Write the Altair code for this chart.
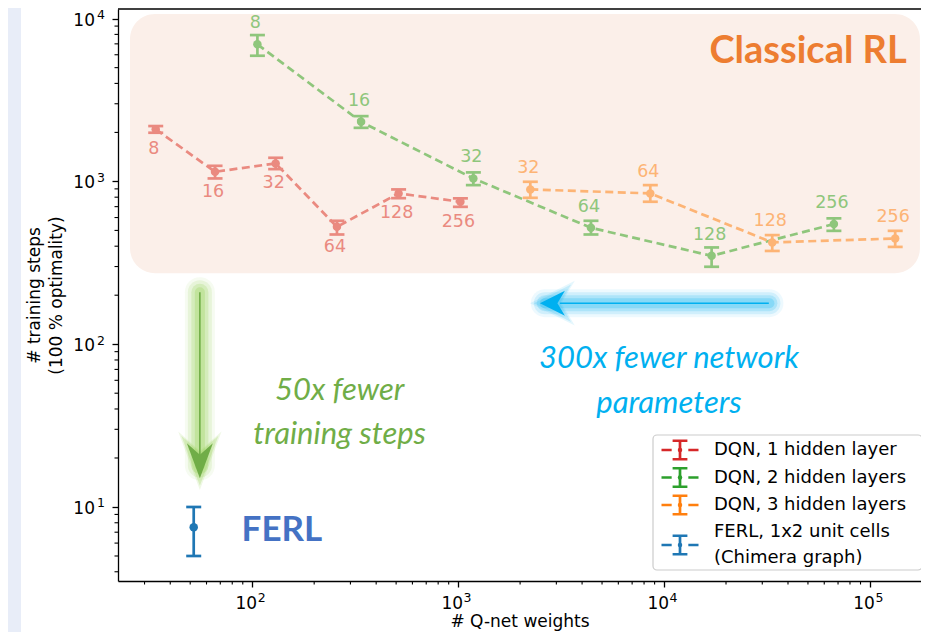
import altair as alt
import pandas as pd

# ---------------- data ----------------
SERIES = ["DQN, 1 hidden layer", "DQN, 2 hidden layers", "DQN, 3 hidden layers",
          "FERL, 1x2 unit cells\n(Chimera graph)"]
FULL_COLORS = ["#d62728", "#2ca02c", "#ff7f0e", "#1f77b4"]
FADED_COLORS = ["#ea8a80", "#8fc67c", "#fdb475"]

H1_UNITS = [8, 16, 32, 64, 128, 256]
H1_WEIGHTS = [34, 66, 130, 258, 514, 1026]
H1_STEPS = [2090, 1146, 1290, 526, 844, 750]
H1_LO = [1991, 1043, 1190, 472, 789, 698]
H1_HI = [2188, 1247, 1397, 573, 893, 787]

H2_UNITS = [8, 16, 32, 64, 128, 256]
H2_WEIGHTS = [106, 338, 1186, 4418, 17026, 66818]
H2_STEPS = [6950, 2322, 1043, 519, 349, 547]
H2_LO = [5916, 2134, 949, 472, 299, 497]
H2_HI = [7925, 2518, 1136, 573, 393, 593]

H3_UNITS = [32, 64, 128, 256]
H3_WEIGHTS = [2242, 8578, 33538, 132610]
H3_STEPS = [893, 844, 422, 446]
H3_LO = [793, 750, 374, 396]
H3_HI = [995, 949, 468, 497]

FERL_WEIGHTS = [52]
FERL_STEPS = [7.5]
FERL_LO = [5.0]
FERL_HI = [10.0]

X_MAJOR = [100, 1000, 10000, 100000]
X_EXP = ["2", "3", "4", "5"]
Y_MAJOR = [10, 100, 1000, 10000]
Y_EXP = ["1", "2", "3", "4"]
X_MINOR = [30, 40, 50, 60, 70, 80, 90, 200, 300, 400, 500, 600, 700, 800, 900,
           2000, 3000, 4000, 5000, 6000, 7000, 8000, 9000,
           20000, 30000, 40000, 50000, 60000, 70000, 80000, 90000]
Y_MINOR = [4, 5, 6, 7, 8, 9, 20, 30, 40, 50, 60, 70, 80, 90,
           200, 300, 400, 500, 600, 700, 800, 900,
           2000, 3000, 4000, 5000, 6000, 7000, 8000, 9000]

# annotation anchors (data coordinates)
BOX = dict(x=25.5, x2=174900, y=10670, y2=273)
CLASSICAL_POS = dict(x=151000, y=5330)
FERL_POS = dict(x=88.8, y=6.18)
GREEN_TEXT_POS = dict(x=266, y=45.3)
BLUE_TEXT_POS = dict(x=10570, y=71.2)
GREEN_ARROW = dict(x=55.7, y=208.7, y2=18.0, head=19.23)
BLUE_ARROW = dict(y=178.6, x=3119, x2=32280, head=2871, gx=2636, gx2=32500)

# ---------------- tables ----------------
rows = []
for name, units, w, s, lo, hi in [
    (SERIES[0], H1_UNITS, H1_WEIGHTS, H1_STEPS, H1_LO, H1_HI),
    (SERIES[1], H2_UNITS, H2_WEIGHTS, H2_STEPS, H2_LO, H2_HI),
    (SERIES[2], H3_UNITS, H3_WEIGHTS, H3_STEPS, H3_LO, H3_HI),
]:
    for u, a, b, c, d in zip(units, w, s, lo, hi):
        rows.append(dict(series=name, label=str(u), weights=a, steps=b, lo=c, hi=d))
dqn = pd.DataFrame(rows)
ferl = pd.DataFrame(dict(series=[SERIES[3]], weights=FERL_WEIGHTS, steps=FERL_STEPS,
                         lo=FERL_LO, hi=FERL_HI))

X_DOMAIN = [22.3, 177000]
Y_DOMAIN = [3.51, 11460]
W, H = 803, 572

x_scale = alt.Scale(type="log", domain=X_DOMAIN, nice=False)
y_scale = alt.Scale(type="log", domain=Y_DOMAIN, nice=False)

x_axis = alt.Axis(values=X_MAJOR, title="# Q-net weights", titlePadding=26, labels=False)
y_axis = alt.Axis(values=Y_MAJOR, title=["# training steps", "(100 % optimality)"],
                  titlePadding=46, titleLineHeight=22, labels=False)


def X(field):
    return alt.X(f"{field}:Q", scale=x_scale, axis=x_axis)


def Y(field):
    return alt.Y(f"{field}:Q", scale=y_scale, axis=y_axis)


one = pd.DataFrame({"k": [0]})

# background strip & box
strip = alt.Chart(one).mark_rect(color="#e8edf8").encode(
    x=alt.value(-110), x2=alt.value(-97), y=alt.value(-1), y2=alt.value(H + 60))

box = alt.Chart(pd.DataFrame([BOX])).mark_rect(color="#fbefe9", cornerRadius=25).encode(
    x=X("x"), x2="x2:Q", y=Y("y"), y2="y2:Q")

# arrows + glows
ga = pd.DataFrame([GREEN_ARROW])
green_glow = [
    alt.Chart(ga).mark_rule(color="#92d050", strokeWidth=sw, opacity=op, strokeCap="round").encode(
        x=X("x"), y=Y("y"), y2="y2:Q")
    for sw, op in [(30, 0.08), (24, 0.15), (17, 0.22), (10, 0.28)]
]
GREEN_HEAD = "M0,1 L-0.743,-1 L0,-0.343 L0.743,-1 Z"
green_head_glow = [
    alt.Chart(ga).mark_point(shape=GREEN_HEAD, filled=True, size=sz,
                             color="#92d050", opacity=op).encode(x=X("x"), y=Y("head"))
    for sz, op in [(3400, 0.15), (2500, 0.25)]
]
green_shaft = alt.Chart(ga).mark_rule(color="#70ad47", strokeWidth=1.6).encode(
    x=X("x"), y=Y("y"), y2="y2:Q")
green_head = alt.Chart(ga).mark_point(shape=GREEN_HEAD, filled=True, size=1225,
                                      color="#70ad47", opacity=1, strokeWidth=0).encode(
    x=X("x"), y=Y("head"))

ba = pd.DataFrame([BLUE_ARROW])
blue_glow = [
    alt.Chart(ba).mark_rule(color="#00b0f0", strokeWidth=sw, opacity=op, strokeCap="round").encode(
        x=X("gx"), x2="gx2:Q", y=Y("y"))
    for sw, op in [(28, 0.07), (22, 0.12), (16, 0.17), (10, 0.22)]
]
BLUE_HEAD = "M-1,0 L1,-1 L0.4,0 L1,1 Z"
blue_head_glow = [
    alt.Chart(ba).mark_point(shape=BLUE_HEAD, filled=True, size=sz,
                             color="#00b0f0", opacity=op).encode(x=X("head"), y=Y("y"))
    for sz, op in [(2000, 0.1), (1400, 0.15)]
]
blue_shaft = alt.Chart(ba).mark_rule(color="#00b0f0", strokeWidth=1.6).encode(
    x=X("x"), x2="x2:Q", y=Y("y"))
blue_head = alt.Chart(ba).mark_point(shape=BLUE_HEAD, filled=True, size=625,
                                     color="#00b0f0", opacity=1, strokeWidth=0).encode(
    x=X("head"), y=Y("y"))

# texts
classical = alt.Chart(pd.DataFrame([dict(CLASSICAL_POS, t="Classical RL")])).mark_text(
    font="Lato", fontSize=38, fontWeight="bold", color="#ed7d31", align="right",
    baseline="alphabetic").encode(x=X("x"), y=Y("y"), text="t:N")
ferl_txt = alt.Chart(pd.DataFrame([dict(FERL_POS, t="FERL")])).mark_text(
    font="Lato", fontSize=35, fontWeight="bold", color="#4472c4", align="left",
    baseline="alphabetic").encode(x=X("x"), y=Y("y"), text="t:N")
green_txt = alt.Chart(pd.DataFrame([dict(GREEN_TEXT_POS, t="50x fewer\ntraining steps")])).mark_text(
    font="Lato", fontSize=31, fontStyle="italic", color="#70ad47", align="center",
    baseline="alphabetic", lineBreak="\n", lineHeight=44).encode(x=X("x"), y=Y("y"), text="t:N")
blue_txt = alt.Chart(pd.DataFrame([dict(BLUE_TEXT_POS, t="300x fewer network\nparameters")])).mark_text(
    font="Lato", fontSize=31, fontStyle="italic", color="#00b0f0", align="center",
    baseline="alphabetic", lineBreak="\n", lineHeight=45).encode(x=X("x"), y=Y("y"), text="t:N")

# DQN series (faded colours)
stroke_enc = alt.Stroke("series:N", scale=alt.Scale(domain=SERIES[:3], range=FADED_COLORS), legend=None)
fill_enc = alt.Fill("series:N", scale=alt.Scale(domain=SERIES[:3], range=FADED_COLORS), legend=None)

base = alt.Chart(dqn)
lines = base.mark_line(strokeDash=[8, 4.5], strokeWidth=2.7).encode(
    x=X("weights"), y=Y("steps"), stroke=stroke_enc, order="weights:Q")
bars = base.mark_rule(strokeWidth=2.7).encode(x=X("weights"), y=Y("lo"), y2="hi:Q", stroke=stroke_enc)
cap_lo = base.mark_tick(orient="horizontal", size=15, thickness=2.7, opacity=1).encode(
    x=X("weights"), y=Y("lo"), fill=fill_enc)
cap_hi = base.mark_tick(orient="horizontal", size=15, thickness=2.7, opacity=1).encode(
    x=X("weights"), y=Y("hi"), fill=fill_enc)
pts = base.mark_circle(size=72, opacity=1).encode(x=X("weights"), y=Y("steps"), fill=fill_enc)
lab_below = base.transform_filter(alt.datum.series == SERIES[0]).mark_text(
    font="DejaVu Sans", fontSize=17.5, dy=20, dx=-2).encode(
    x=X("weights"), y=Y("steps"), text="label:N", fill=fill_enc)
lab_above = base.transform_filter(alt.datum.series != SERIES[0]).mark_text(
    font="DejaVu Sans", fontSize=17.5, dy=-21, dx=-2).encode(
    x=X("weights"), y=Y("steps"), text="label:N", fill=fill_enc)

# FERL (full colour)
fbase = alt.Chart(ferl)
ferl_bar = fbase.mark_rule(strokeWidth=2.7, color=FULL_COLORS[3]).encode(
    x=X("weights"), y=Y("lo"), y2="hi:Q")
ferl_lo = fbase.mark_tick(orient="horizontal", size=15, thickness=2.7, opacity=1,
                          color=FULL_COLORS[3]).encode(x=X("weights"), y=Y("lo"))
ferl_hi = fbase.mark_tick(orient="horizontal", size=15, thickness=2.7, opacity=1,
                          color=FULL_COLORS[3]).encode(x=X("weights"), y=Y("hi"))
ferl_pt = fbase.mark_circle(size=72, opacity=1, color=FULL_COLORS[3]).encode(
    x=X("weights"), y=Y("steps"))

# ---------------- legend (drawn with marks) ----------------
LX, LY, LW, LH = 535, 426, 269, 135          # legend box in plot pixels
ROW0, ROW_STEP, ML_EXTRA, LINE_H = 15, 27.5, 12.5, 26
leg_rows = []
for i, name in enumerate(SERIES):
    n_extra = name.count("\n")
    py = LY + ROW0 + i * ROW_STEP + (ML_EXTRA if n_extra else 0)
    leg_rows.append(dict(series=name, py=py, ty=py - n_extra * LINE_H / 2))
leg = pd.DataFrame(leg_rows)
leg_color = alt.Color("series:N", scale=alt.Scale(domain=SERIES, range=FULL_COLORS), legend=None)
leg_box = alt.Chart(one).mark_rect(fill="white", fillOpacity=0.8, stroke="#cccccc",
                                   strokeWidth=1.2, cornerRadius=4).encode(
    x=alt.value(LX), x2=alt.value(LX + LW), y=alt.value(LY), y2=alt.value(LY + LH))
LEG_PATH = ("M-1,0L-0.45,0M0.45,0L1,0M-0.4,-0.5L0.4,-0.5M0,-0.5L0,0.5"
            "M-0.4,0.5L0.4,0.5")
leg_sym = alt.Chart(leg).mark_point(shape=LEG_PATH, filled=False, size=1369, strokeWidth=2.7,
                                    opacity=1).encode(
    x=alt.value(LX + 27), y=alt.Y("py:Q", scale=None), color=leg_color)
leg_dot = alt.Chart(leg).mark_circle(size=20, opacity=1).encode(
    x=alt.value(LX + 27), y=alt.Y("py:Q", scale=None), color=leg_color)
leg_txt = alt.Chart(leg).mark_text(font="DejaVu Sans", fontSize=18, color="black", align="left",
                                   baseline="middle", lineBreak="\n", lineHeight=LINE_H).encode(
    x=alt.value(LX + 61), y=alt.Y("ty:Q", scale=None), text="series:N")

# ---------------- tick labels 10^n with real superscripts ----------------
xt = pd.DataFrame({"v": X_MAJOR, "e": X_EXP})
yt = pd.DataFrame({"v": Y_MAJOR, "e": Y_EXP})
TICK_FONT = dict(font="DejaVu Sans", color="black", baseline="alphabetic")
x_base = alt.Chart(xt).mark_text(fontSize=17, align="right", dx=5, **TICK_FONT).encode(
    x=X("v"), y=alt.value(H + 28), text=alt.value("10"))
x_exp = alt.Chart(xt).mark_text(fontSize=12.5, align="left", dx=5.5, **TICK_FONT).encode(
    x=X("v"), y=alt.value(H + 21), text="e:N")
y_base = alt.Chart(yt).mark_text(fontSize=17, align="right", dy=7, **TICK_FONT).encode(
    y=Y("v"), x=alt.value(-23), text=alt.value("10"))
y_exp = alt.Chart(yt).mark_text(fontSize=12.5, align="right", dy=0.5, **TICK_FONT).encode(
    y=Y("v"), x=alt.value(-13), text="e:N")

# spines / minor ticks
top_spine = alt.Chart(one).mark_rule(color="black", strokeWidth=1.3).encode(
    x=alt.value(0), x2=alt.value(W), y=alt.value(0))
xminor = alt.Chart(pd.DataFrame({"v": X_MINOR})).mark_rule(color="black", strokeWidth=1.1).encode(
    x=X("v"), y=alt.value(H), y2=alt.value(H + 3.5))
yminor = alt.Chart(pd.DataFrame({"v": Y_MINOR})).mark_rule(color="black", strokeWidth=1.1).encode(
    y=Y("v"), x=alt.value(0), x2=alt.value(-3.5))

chart = alt.layer(
    strip, box, *green_glow, *green_head_glow, green_shaft, green_head,
    *blue_glow, *blue_head_glow, blue_shaft, blue_head,
    classical, ferl_txt, green_txt, blue_txt,
    lines, bars, cap_lo, cap_hi, pts, lab_below, lab_above,
    ferl_bar, ferl_lo, ferl_hi, ferl_pt,
    top_spine, xminor, yminor, x_base, x_exp, y_base, y_exp,
    leg_box, leg_sym, leg_dot, leg_txt,
).properties(
    width=W, height=H,
    autosize=alt.AutoSizeParams(type="none"),
    padding={"left": 110, "top": 1, "right": 0, "bottom": 51},
    background="white",
).configure_axis(
    titleFont="DejaVu Sans", titleFontSize=17, titleFontWeight="normal", titleColor="black",
    domainColor="black", domainWidth=1.3, tickColor="black", tickWidth=1.3, tickSize=6,
    grid=False,
).configure_view(stroke=None)

chart.save("out.html", embed_options={"renderer": "svg", "actions": False})
